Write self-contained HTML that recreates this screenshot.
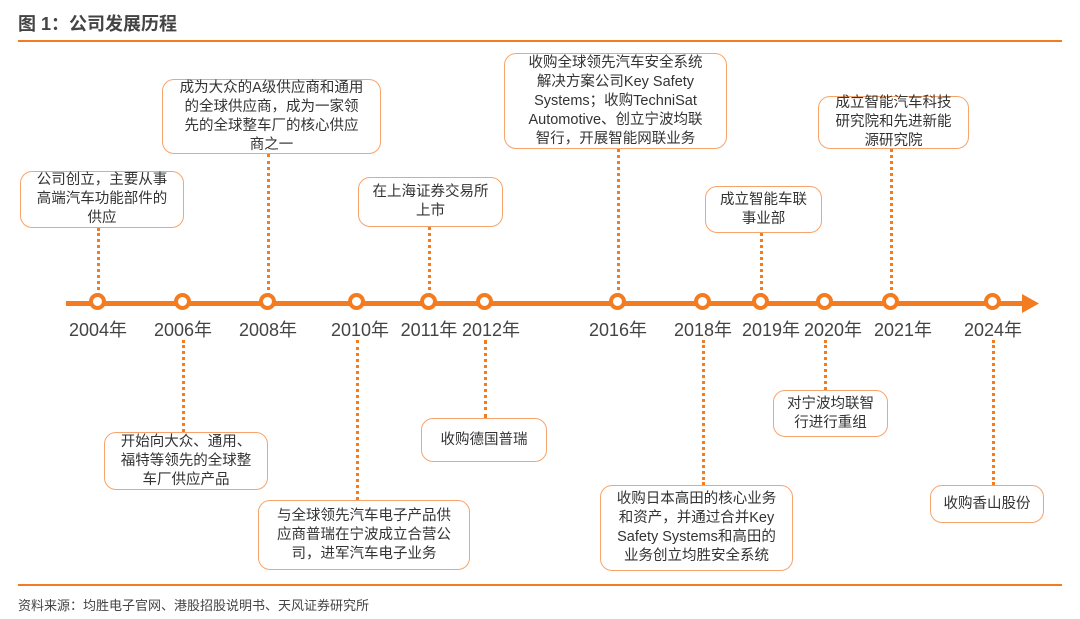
<!DOCTYPE html>
<html><head><meta charset="utf-8"><style>
body{margin:0;width:1080px;height:619px;background:#fff;position:relative;overflow:hidden;font-family:"Liberation Sans","Noto Sans CJK SC",sans-serif;color:#333}
.t{position:absolute;left:18px;top:10px;font-size:18px;font-weight:bold;color:#444}
.hl{position:absolute;left:18px;width:1044px;height:2px;background:#f47c20}
.b{position:absolute;border:1.5px solid #f6a46c;border-radius:12px;box-sizing:border-box;display:flex;align-items:center;justify-content:center;text-align:center;font-size:14.5px;line-height:19px;color:#333;background:#fff}
.v{position:absolute;width:0;border-left:3px dotted #f47c20}
.c{position:absolute;width:9px;height:9px;border:4px solid #f47c20;border-radius:50%;background:#fff;top:293px}
.y{position:absolute;top:316px;font-size:18px;color:#444;width:80px;text-align:center}
.src{position:absolute;left:18px;top:595px;font-size:13px;color:#444}
</style></head><body>
<div class="t">图 1：公司发展历程</div>
<div class="hl" style="top:40px"></div>
<div style="position:absolute;left:66px;top:301px;width:962px;height:5px;background:#f47c20"></div>
<svg style="position:absolute;left:1022px;top:294px" width="18" height="19"><polygon points="0,0 17,9.5 0,19" fill="#f47c20"/></svg>

<div class="v" style="left:97px;top:228px;height:68px"></div>
<div class="v" style="left:267px;top:154px;height:142px"></div>
<div class="v" style="left:428px;top:227px;height:69px"></div>
<div class="v" style="left:617px;top:149px;height:147px"></div>
<div class="v" style="left:760px;top:233px;height:63px"></div>
<div class="v" style="left:890px;top:149px;height:147px"></div>
<div class="v" style="left:182px;top:340px;height:92px"></div>
<div class="v" style="left:356px;top:340px;height:160px"></div>
<div class="v" style="left:484px;top:340px;height:78px"></div>
<div class="v" style="left:702px;top:340px;height:145px"></div>
<div class="v" style="left:824px;top:340px;height:50px"></div>
<div class="v" style="left:992px;top:340px;height:145px"></div>

<div class="c" style="left:89px"></div><div class="c" style="left:174px"></div><div class="c" style="left:259px"></div>
<div class="c" style="left:348px"></div><div class="c" style="left:420px"></div><div class="c" style="left:476px"></div>
<div class="c" style="left:609px"></div><div class="c" style="left:694px"></div><div class="c" style="left:752px"></div>
<div class="c" style="left:816px"></div><div class="c" style="left:882px"></div><div class="c" style="left:984px"></div>

<div class="y" style="left:58px">2004年</div><div class="y" style="left:143px">2006年</div><div class="y" style="left:228px">2008年</div>
<div class="y" style="left:320px">2010年</div><div class="y" style="left:389px">2011年</div><div class="y" style="left:451px">2012年</div>
<div class="y" style="left:578px">2016年</div><div class="y" style="left:663px">2018年</div><div class="y" style="left:731px">2019年</div>
<div class="y" style="left:793px">2020年</div><div class="y" style="left:863px">2021年</div><div class="y" style="left:953px">2024年</div>

<div class="b" style="left:20px;top:171px;width:164px;height:57px">公司创立，主要从事<br>高端汽车功能部件的<br>供应</div>
<div class="b" style="left:162px;top:79px;width:219px;height:75px">成为大众的A级供应商和通用<br>的全球供应商，成为一家领<br>先的全球整车厂的核心供应<br>商之一</div>
<div class="b" style="left:358px;top:177px;width:145px;height:50px">在上海证券交易所<br>上市</div>
<div class="b" style="left:504px;top:53px;width:223px;height:96px">收购全球领先汽车安全系统<br>解决方案公司Key Safety<br>Systems；收购TechniSat<br>Automotive、创立宁波均联<br>智行，开展智能网联业务</div>
<div class="b" style="left:705px;top:186px;width:117px;height:47px">成立智能车联<br>事业部</div>
<div class="b" style="left:818px;top:96px;width:151px;height:53px">成立智能汽车科技<br>研究院和先进新能<br>源研究院</div>
<div class="b" style="left:104px;top:432px;width:164px;height:58px">开始向大众、通用、<br>福特等领先的全球整<br>车厂供应产品</div>
<div class="b" style="left:258px;top:500px;width:212px;height:70px">与全球领先汽车电子产品供<br>应商普瑞在宁波成立合营公<br>司，进军汽车电子业务</div>
<div class="b" style="left:421px;top:418px;width:126px;height:44px">收购德国普瑞</div>
<div class="b" style="left:600px;top:485px;width:193px;height:86px">收购日本高田的核心业务<br>和资产，并通过合并Key<br>Safety Systems和高田的<br>业务创立均胜安全系统</div>
<div class="b" style="left:773px;top:390px;width:115px;height:47px">对宁波均联智<br>行进行重组</div>
<div class="b" style="left:930px;top:485px;width:114px;height:38px">收购香山股份</div>

<div class="hl" style="top:584px"></div>
<div class="src">资料来源：均胜电子官网、港股招股说明书、天风证券研究所</div>
</body></html>
